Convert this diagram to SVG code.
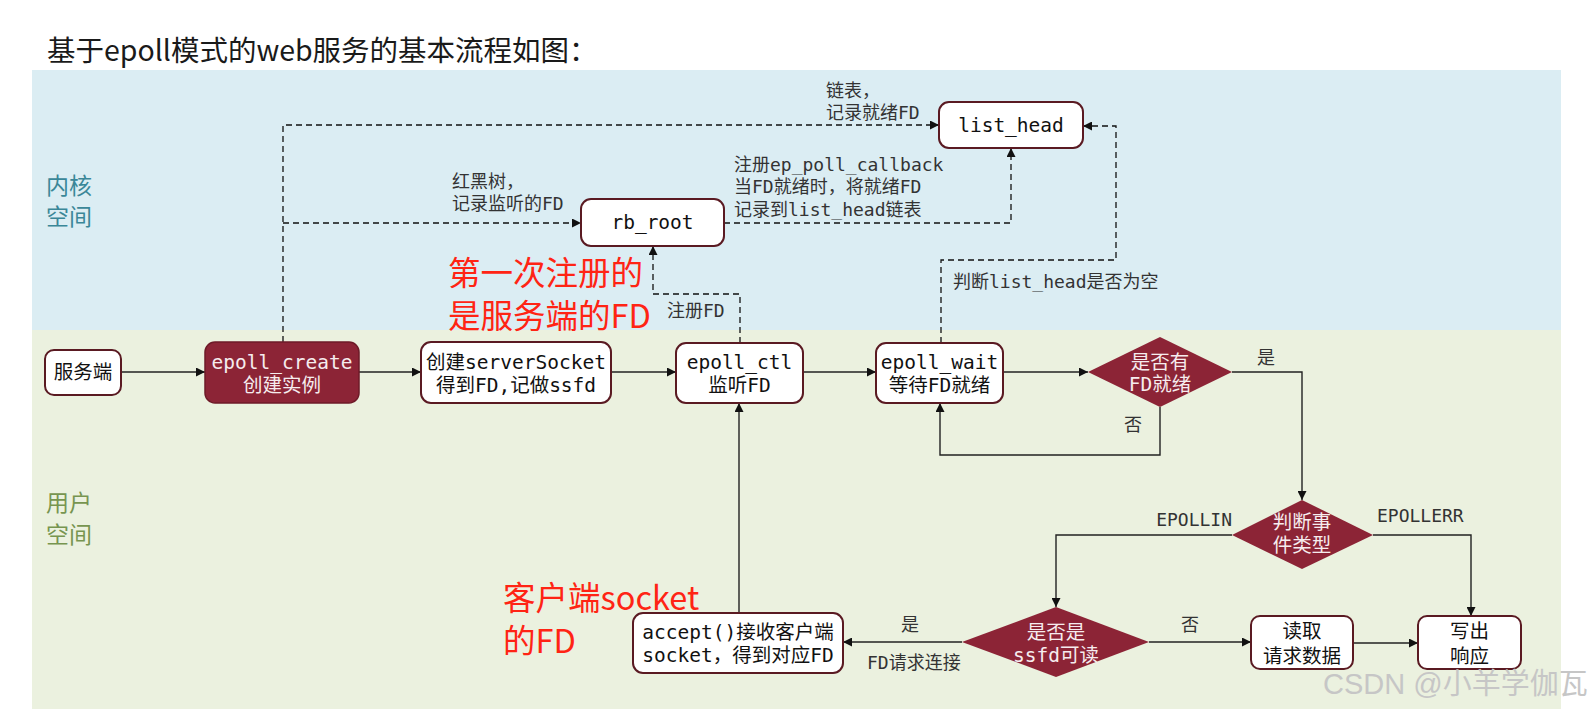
<svg xmlns="http://www.w3.org/2000/svg" width="1593" height="718" viewBox="0 0 1593 718">
  <style>
    .node{fill:#ffffff;stroke:#5a1a22;stroke-width:2;}
    .dark{fill:#8c2436;stroke:#6e1a28;stroke-width:1.5;}
    .dia{fill:#8c2436;stroke:none;}
    .nt{font-family:"DejaVu Sans Mono","Noto Sans CJK SC",monospace;font-size:19.5px;fill:#111;text-anchor:middle;}
    .wt{font-family:"DejaVu Sans Mono","Noto Sans CJK SC",monospace;font-size:19.5px;fill:#f6ecee;text-anchor:middle;}
    .lb{font-family:"DejaVu Sans Mono","Noto Sans CJK SC",monospace;font-size:18px;fill:#333;}
    .red{font-family:"Noto Sans CJK SC","Noto Sans",sans-serif;font-size:32.5px;fill:#ff2414;}
    .solid{fill:none;stroke:#222;stroke-width:1.4;}
    .dash{fill:none;stroke:#111;stroke-width:1.3;stroke-dasharray:6 4;}
  </style>
  <defs>
    <marker id="ah" viewBox="0 0 10 10" refX="10" refY="5" markerWidth="10" markerHeight="9" markerUnits="userSpaceOnUse" orient="auto">
      <path d="M0,0 L10,5 L0,10 z" fill="#111"/>
    </marker>
  </defs>
  <rect x="0" y="0" width="1593" height="718" fill="#ffffff"/>
  <g id="bands">
    <rect x="32" y="70" width="1529" height="260" fill="#dbedf3"/>
    <rect x="32" y="330" width="1529" height="379" fill="#ebf1df"/>
  </g>
  <text x="47" y="61" font-family="Noto Sans CJK SC, Noto Sans, sans-serif" font-size="28.5" fill="#1a1a1a">基于epoll模式的web服务的基本流程如图：</text>
  <g id="zone-labels" font-family="Noto Sans CJK SC, sans-serif" font-size="23">
    <text x="46" y="194" fill="#3a8798">内核</text>
    <text x="46" y="225" fill="#3a8798">空间</text>
    <text x="46" y="511" fill="#779550">用户</text>
    <text x="46" y="543" fill="#779550">空间</text>
  </g>

  <g id="connectors">
    <path class="solid" d="M121,372 L205,372" marker-end="url(#ah)"/>
    <path class="solid" d="M359,372 L421,372" marker-end="url(#ah)"/>
    <path class="solid" d="M611,372 L676,372" marker-end="url(#ah)"/>
    <path class="solid" d="M803,372 L876,372" marker-end="url(#ah)"/>
    <path class="solid" d="M1003,372 L1088,372" marker-end="url(#ah)"/>
    <path class="solid" d="M1232,372 L1302,372 L1302,500" marker-end="url(#ah)"/>
    <path class="solid" d="M1160,407 L1160,455 L940,455 L940,403" marker-end="url(#ah)"/>
    <path class="solid" d="M1232,535 L1056,535 L1056,607" marker-end="url(#ah)"/>
    <path class="solid" d="M1373,535 L1471,535 L1471,616" marker-end="url(#ah)"/>
    <path class="solid" d="M962,642 L843,642" marker-end="url(#ah)"/>
    <path class="solid" d="M1149,642 L1251,642" marker-end="url(#ah)"/>
    <path class="solid" d="M1353,643 L1418,643" marker-end="url(#ah)"/>
    <path class="solid" d="M739,613 L739,403" marker-end="url(#ah)"/>
    <path class="dash" d="M283,342 L283,125 L939,125" marker-end="url(#ah)"/>
    <path class="dash" d="M283,223 L581,223" marker-end="url(#ah)"/>
    <path class="dash" d="M724,223 L1011,223 L1011,148" marker-end="url(#ah)"/>
    <path class="dash" d="M740,343 L740,294 L653,294 L653,246" marker-end="url(#ah)"/>
    <path class="dash" d="M941,343 L941,260 L1116,260 L1116,126 L1083,126" marker-end="url(#ah)"/>
    <text class="lb" x="826" y="97">链表，</text>
    <text class="lb" x="826" y="119">记录就绪FD</text>
    <text class="lb" x="452" y="188">红黑树，</text>
    <text class="lb" x="452" y="210">记录监听的FD</text>
    <text class="lb" x="734" y="171">注册ep_poll_callback</text>
    <text class="lb" x="734" y="193">当FD就绪时，将就绪FD</text>
    <text class="lb" x="734" y="216">记录到list_head链表</text>
    <text class="lb" x="667" y="317">注册FD</text>
    <text class="lb" x="953" y="288">判断list_head是否为空</text>
    <text class="lb" x="1266" y="364" text-anchor="middle">是</text>
    <text class="lb" x="1133" y="431" text-anchor="middle">否</text>
    <text class="lb" x="1232" y="526" text-anchor="end">EPOLLIN</text>
    <text class="lb" x="1377" y="522">EPOLLERR</text>
    <text class="lb" x="910" y="631" text-anchor="middle">是</text>
    <text class="lb" x="867" y="669">FD请求连接</text>
    <text class="lb" x="1190" y="631" text-anchor="middle">否</text>
  </g>

  <g id="n-server">
    <rect class="node" x="45" y="350" width="76" height="45" rx="9"/>
    <text class="nt" x="83" y="379">服务端</text>
  </g>
  <g id="n-epoll-create">
    <rect class="dark" x="205" y="342" width="154" height="61" rx="10"/>
    <text class="wt" x="282" y="369">epoll_create</text>
    <text class="wt" x="282" y="392">创建实例</text>
  </g>
  <g id="n-server-socket">
    <rect class="node" x="421" y="342" width="190" height="61" rx="10"/>
    <text class="nt" x="516" y="369">创建serverSocket</text>
    <text class="nt" x="516" y="392">得到FD,记做ssfd</text>
  </g>
  <g id="n-epoll-ctl">
    <rect class="node" x="676" y="343" width="127" height="60" rx="10"/>
    <text class="nt" x="739.5" y="369">epoll_ctl</text>
    <text class="nt" x="739.5" y="392">监听FD</text>
  </g>
  <g id="n-epoll-wait">
    <rect class="node" x="876" y="343" width="127" height="60" rx="10"/>
    <text class="nt" x="939.5" y="369">epoll_wait</text>
    <text class="nt" x="939.5" y="392">等待FD就绪</text>
  </g>
  <g id="n-has-ready">
    <polygon class="dia" points="1088,372 1160,337 1232,372 1160,407"/>
    <text class="wt" x="1160" y="369">是否有</text>
    <text class="wt" x="1160" y="391">FD就绪</text>
  </g>
  <g id="n-event-type">
    <polygon class="dia" points="1232,535 1302,500 1373,535 1302,569"/>
    <text class="wt" x="1302" y="529">判断事</text>
    <text class="wt" x="1302" y="552">件类型</text>
  </g>
  <g id="n-ssfd">
    <polygon class="dia" points="962,642 1056,607 1149,642 1056,677"/>
    <text class="wt" x="1056" y="639">是否是</text>
    <text class="wt" x="1056" y="662">ssfd可读</text>
  </g>
  <g id="n-accept">
    <rect class="node" x="633" y="613" width="210" height="60" rx="10"/>
    <text class="nt" x="738" y="639">accept()接收客户端</text>
    <text class="nt" x="738" y="662">socket，得到对应FD</text>
  </g>
  <g id="n-read">
    <rect class="node" x="1251" y="616" width="102" height="53" rx="9"/>
    <text class="nt" x="1302" y="638">读取</text>
    <text class="nt" x="1302" y="663">请求数据</text>
  </g>
  <g id="n-write">
    <rect class="node" x="1418" y="616" width="103" height="53" rx="9"/>
    <text class="nt" x="1469.5" y="638">写出</text>
    <text class="nt" x="1469.5" y="663">响应</text>
  </g>
  <g id="n-rb-root">
    <rect class="node" x="581" y="199" width="143" height="47" rx="10"/>
    <text class="nt" x="652.5" y="229">rb_root</text>
  </g>
  <g id="n-list-head">
    <rect class="node" x="939" y="102" width="144" height="46" rx="10"/>
    <text class="nt" x="1011" y="132">list_head</text>
  </g>

  <g id="annotations">
    <text class="red" x="448" y="285">第一次注册的</text>
    <text class="red" x="448" y="328">是服务端的FD</text>
    <text class="red" x="503" y="610">客户端socket</text>
    <text class="red" x="503" y="653">的FD</text>
  </g>
  <text x="1323" y="694" font-family="Liberation Sans, Noto Sans CJK SC, sans-serif" font-size="29" fill="#c6c6c6">CSDN @小羊学伽瓦</text>
</svg>
